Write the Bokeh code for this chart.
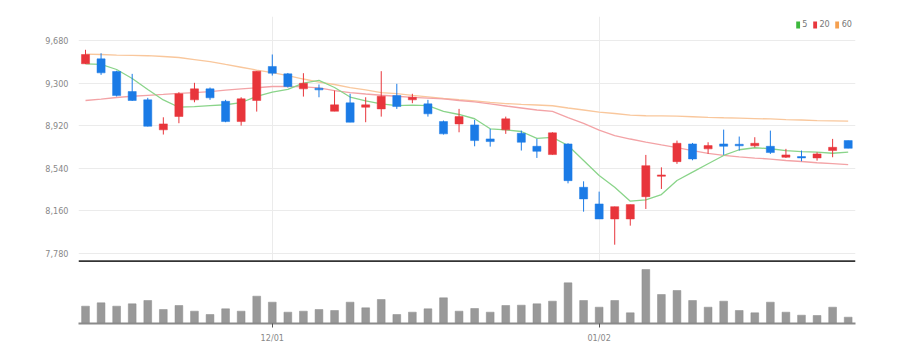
from bokeh.plotting import figure
from bokeh.layouts import column
from bokeh.models import (ColumnDataSource, FixedTicker, Span, Range1d, Legend,
                          LegendItem, NumeralTickFormatter)
from bokeh.embed import file_html
from bokeh.resources import INLINE

# ---------------- data ----------------
idx = list(range(50))
tick_positions = [12, 33]
tick_labels = ["12/01", "01/02"]
price_ticks = [7780, 8160, 8540, 8920, 9300, 9680]

opens = [9472, 9516, 9403, 9224, 9150, 8882, 9001, 9150, 9248, 9137,
         8956, 9144, 9448, 9382, 9248, 9254, 9048, 9123, 9084, 9069,
         9188, 9150, 9114, 8956, 8935, 8926, 8801, 8882, 8851, 8735,
         8661, 8756, 8369, 8220, 8086, 8086, 8285, 8467, 8598, 8756,
         8712, 8756, 8753, 8739, 8735, 8637, 8643, 8631, 8697, 8786]
highs = [9597, 9566, 9410, 9382, 9168, 8994, 9218, 9302, 9260, 9150,
         9173, 9406, 9555, 9390, 9388, 9287, 9233, 9204, 9173, 9406,
         9293, 9204, 9150, 8965, 9069, 8971, 8891, 9000, 8875, 8801,
         8860, 8762, 8422, 8330, 8196, 8214, 8658, 8547, 8786, 8765,
         8771, 8884, 8822, 8816, 8875, 8712, 8697, 8681, 8801, 8786]
lows = [9470, 9373, 9180, 9140, 8912, 8840, 8941, 9128, 9150, 8950,
        8920, 9045, 9367, 9260, 9179, 9173, 9048, 8950, 8950, 9000,
        9069, 9120, 9000, 8840, 8860, 8735, 8732, 8846, 8697, 8631,
        8660, 8404, 8151, 8086, 7856, 8026, 8175, 8354, 8578, 8610,
        8667, 8658, 8697, 8726, 8667, 8631, 8601, 8607, 8637, 8717]
closes = [9555, 9391, 9188, 9144, 8914, 8935, 9204, 9248, 9168, 8956,
          9159, 9406, 9388, 9269, 9298, 9239, 9105, 8950, 9105, 9182,
          9090, 9173, 9025, 8846, 9000, 8786, 8777, 8980, 8771, 8690,
          8855, 8428, 8265, 8086, 8196, 8214, 8562, 8479, 8762, 8622,
          8741, 8735, 8739, 8762, 8679, 8658, 8631, 8667, 8726, 8717]

ma5 = [9472, 9466, 9421, 9341, 9242, 9149, 9084, 9090, 9099, 9106,
       9126, 9180, 9218, 9244, 9300, 9323, 9260, 9175, 9140, 9113,
       9099, 9102, 9099, 9046, 9019, 8981, 8891, 8882, 8867, 8805,
       8814, 8742, 8608, 8474, 8370, 8245, 8257, 8304, 8429, 8504,
       8579, 8653, 8704, 8722, 8713, 8697, 8688, 8682, 8673, 8682]
ma20 = [9144, 9157, 9171, 9182, 9190, 9198, 9207, 9215, 9224, 9236,
        9247, 9258, 9269, 9271, 9266, 9256, 9233, 9215, 9202, 9191,
        9182, 9172, 9165, 9158, 9144, 9131, 9113, 9095, 9077, 9059,
        9046, 8992, 8939, 8880, 8831, 8800, 8773, 8747, 8724, 8697,
        8671, 8653, 8641, 8630, 8621, 8608, 8599, 8588, 8581, 8572]
ma60 = [9559, 9555, 9550, 9548, 9544, 9537, 9528, 9510, 9492, 9466,
        9441, 9416, 9394, 9367, 9336, 9309, 9287, 9260, 9238, 9215,
        9205, 9190, 9177, 9162, 9151, 9141, 9128, 9117, 9110, 9104,
        9097, 9077, 9059, 9041, 9028, 9013, 9008, 9007, 9004, 8999,
        8994, 8990, 8987, 8983, 8979, 8974, 8970, 8965, 8962, 8959]

volumes = [52000, 62000, 52000, 59000, 69000, 42000, 54000, 37000, 27000, 44000,
           37000, 82000, 64000, 34000, 37000, 42000, 39000, 64000, 47000, 72000,
           27000, 34000, 44000, 77000, 37000, 45000, 34000, 54000, 55000, 59000,
           67000, 122000, 69000, 49000, 69000, 32000, 162000, 87000, 99000, 69000,
           49000, 67000, 39000, 32000, 64000, 34000, 25000, 24000, 49000, 19000]

legend_labels = ["5", "20", "60"]

# ---------------- styling ----------------
UP = "#e8353b"
DOWN = "#1b7be6"
C5, C20, C60 = "#8ad48a", "#f3a3a6", "#f9c79c"
L5, L20, L60 = "#3cb83c", "#e8383d", "#f5a050"
FONT = "DejaVu Sans Condensed"
GRID = "#ebebeb"

colors = [UP if c >= o else DOWN for o, c in zip(opens, closes)]
src = ColumnDataSource(dict(
    x=idx, open=opens, high=highs, low=lows, close=closes,
    top=[max(o, c) for o, c in zip(opens, closes)],
    bottom=[min(o, c) for o, c in zip(opens, closes)],
    color=colors, ma5=ma5, ma20=ma20, ma60=ma60, vol=volumes))

xr = Range1d(-0.45, 49.47)

p1 = figure(width=904, height=262, x_range=xr, y_range=Range1d(7696.9, 9894.4),
            output_backend="svg", toolbar_location=None,
            min_border_left=78, min_border_right=49, min_border_top=16,
            min_border_bottom=0)
p1.outline_line_color = None
p1.background_fill_color = "white"
p1.border_fill_color = "white"
p1.xaxis.visible = False
p1.xgrid.ticker = FixedTicker(ticks=tick_positions)
p1.xgrid.grid_line_color = GRID
p1.ygrid.grid_line_color = GRID
p1.yaxis.ticker = FixedTicker(ticks=price_ticks)
p1.yaxis.formatter = NumeralTickFormatter(format="0,0")
p1.yaxis.axis_line_color = None
p1.yaxis.major_tick_line_color = None
p1.yaxis.minor_tick_line_color = None
p1.yaxis.major_label_standoff = 4
p1.yaxis.major_label_text_font = FONT
p1.yaxis.major_label_text_font_size = "9px"
p1.yaxis.major_label_text_color = "#888888"

p1.line("x", "ma60", source=src, line_color=C60, line_width=1.3)
p1.line("x", "ma20", source=src, line_color=C20, line_width=1.3)
p1.line("x", "ma5", source=src, line_color=C5, line_width=1.3)

p1.segment("x", "high", "x", "low", source=src, line_color="color", line_width=1)
p1.vbar(x="x", top="top", bottom="bottom", width=0.52, source=src,
        fill_color="color", line_color="color", line_width=0.5)

sep = Span(location=7708.5, dimension="width", line_color="#333333", line_width=2)
p1.add_layout(sep)

nan = float("nan")
rends = []
for col in (L5, L20, L60):
    rends.append(p1.quad(left=[nan], right=[nan], top=[nan], bottom=[nan],
                         fill_color=col, line_color=None))
legend = Legend(items=[LegendItem(label=lab, renderers=[r])
                       for lab, r in zip(legend_labels, rends)],
                orientation="horizontal", location="top_right",
                glyph_width=5, glyph_height=9, label_standoff=2, spacing=5,
                padding=0, margin=3, label_height=10, label_width=0,
                label_text_font=FONT, label_text_font_size="9px",
                label_text_color="#777777", border_line_color=None,
                background_fill_alpha=0)
p1.add_layout(legend)

p2 = figure(width=904, height=91, x_range=xr, y_range=Range1d(0, 183000),
            output_backend="svg", toolbar_location=None,
            min_border_left=78, min_border_right=49, min_border_top=0,
            min_border_bottom=30)
p2.outline_line_color = None
p2.background_fill_color = "white"
p2.border_fill_color = "white"
p2.yaxis.visible = False
p2.xgrid.grid_line_color = None
p2.ygrid.grid_line_color = None
p2.vbar(x="x", top="vol", bottom=0, width=0.5, source=src,
        fill_color="#999999", line_color="#8c8c8c", line_width=0.5)
p2.xaxis.ticker = FixedTicker(ticks=tick_positions)
p2.xaxis.major_label_overrides = dict(zip(tick_positions, tick_labels))
p2.xaxis.axis_line_color = "#8a8a8a"
p2.xaxis.axis_line_width = 2
p2.xaxis.major_tick_line_color = "#555555"
p2.xaxis.major_tick_in = 0
p2.xaxis.major_tick_out = 4
p2.xaxis.minor_tick_line_color = None
p2.xaxis.major_label_standoff = 5
p2.xaxis.major_label_text_font = FONT
p2.xaxis.major_label_text_font_size = "9px"
p2.xaxis.major_label_text_color = "#888888"

layout = column(p1, p2, spacing=0)
open("out.html", "w").write(file_html(layout, INLINE))
